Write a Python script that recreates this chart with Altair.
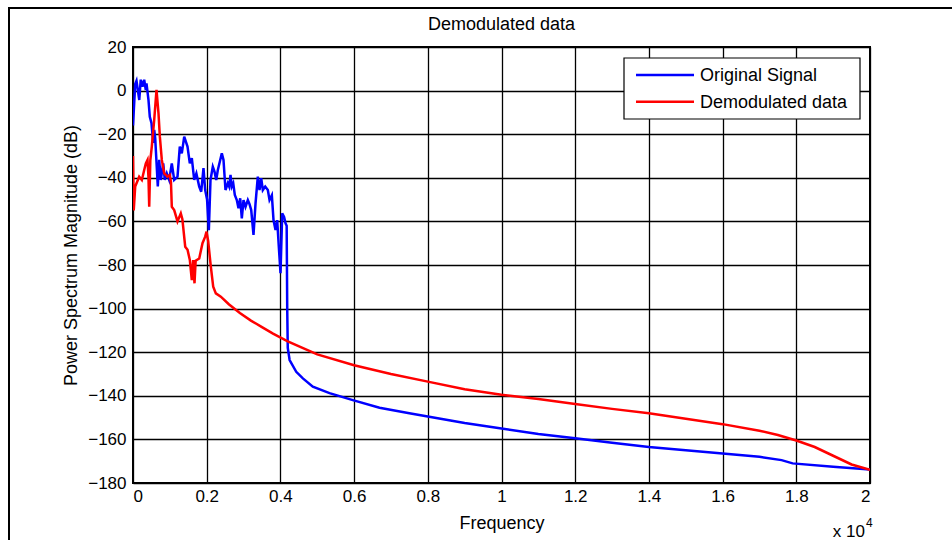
import altair as alt
import pandas as pd

# Power spectrum of the original signal (frequency in Hz, magnitude in dB)
freq_original = [0, 60, 95, 170, 210, 258, 304, 347, 366, 420, 456, 502, 548, 575, 602,
                 638, 673, 711, 754, 820, 863, 917, 982, 1053, 1118, 1208, 1270, 1324,
                 1390, 1479, 1542, 1596, 1661, 1720, 1797, 1851, 1913, 1959, 2010, 2058,
                 2103, 2166, 2210, 2258, 2302, 2367, 2410, 2456, 2510, 2573, 2610, 2646,
                 2681, 2720, 2763, 2817, 2863, 2909, 2953, 2999, 3053, 3116, 3160, 3208,
                 3270, 3325, 3387, 3433, 3479, 3523, 3588, 3659, 3705, 3768, 3813, 3868,
                 3913, 3957, 4003, 4049, 4100, 4139, 4170, 4185, 4200, 4250, 4430, 4610,
                 4880, 5333, 5965, 6690, 7500, 8000, 9000, 10000, 11000, 12000, 13000,
                 14000, 15000, 16000, 17000, 17600, 17900, 19000, 20000]
mag_original = [-16, 3, 4.5, -4.3, 5, 1.8, 5, 0.3, 3.3, -4.3, -12, -15, -24, -18, -21.7,
                -33, -44, -31.8, -41, -33.4, -41, -38, -41, -33.4, -41, -39.5, -25.7, -28.8,
                -21.1, -25.7, -33.4, -31, -41, -38, -44, -46.4, -35.6, -45.6, -50, -64,
                -41, -34.9, -37, -41, -36.4, -31.8, -28.8, -31.8, -45.6, -42.5, -44, -38.7,
                -44, -42.5, -47.9, -50.2, -54, -49.4, -58.6, -50.2, -53.3, -50.2, -52, -54.8,
                -66.2, -51.7, -39.5, -45.6, -40.2, -45.6, -44, -45.6, -50.2, -48, -59.4, -64,
                -59.4, -71.6, -83.8, -56.3, -58, -60.9, -62, -100, -118, -123.6, -129, -132,
                -135.8, -138.8, -142, -145.5, -148, -149.5, -152.5, -155, -157.5, -159.5, -161.5,
                -163.5, -165, -166.5, -168, -169.5, -171, -172.5, -173.8]

# Power spectrum of the demodulated data
freq_demod = [0, 20, 60, 168, 240, 304, 348, 394, 420, 440, 470, 510, 575, 638, 692, 728,
              782, 847, 936, 999, 1030, 1053, 1118, 1208, 1297, 1340, 1417, 1480, 1542,
              1596, 1633, 1669, 1700, 1797, 1886, 1959, 1995, 2040, 2112, 2177, 2248, 2383,
              2600, 2900, 3200, 3500, 3800, 4200, 4600, 5000, 6000, 7000, 8000, 9000, 10000,
              11000, 12000, 13000, 14000, 15000, 16000, 17000, 17500, 18000, 18500, 19000,
              19500, 20000]
mag_demod = [-30, -55, -44, -39.5, -41, -36.4, -33.4, -31.8, -40, -53.3, -32, -25.7, -13.5,
             0.3, -10.4, -21, -31.8, -38, -39.5, -38.7, -42, -53.3, -54.8, -60, -56.3, -59,
             -71.6, -73, -77.7, -86.9, -77.7, -88.4, -78, -77, -70, -67, -64.7, -69, -80.8,
             -90, -93, -94.5, -98, -102, -105.5, -108.5, -111.5, -115, -118, -121, -126, -130,
             -133.5, -137, -139.5, -141.5, -143.8, -146, -148, -150.5, -153, -156, -158,
             -160.5, -163.5, -167.5, -171.5, -174]

series_names = ["Original Signal", "Demodulated data"]
series_colors = ["#0000ff", "#ff0000"]

x_ticks = list(range(0, 20001, 2000))
y_ticks = list(range(-180, 21, 20))

FONT = "Liberation Sans"
W, H = 737, 436

df = pd.concat([
    pd.DataFrame({"freq": freq_original, "mag": mag_original, "series": series_names[0]}),
    pd.DataFrame({"freq": freq_demod, "mag": mag_demod, "series": series_names[1]}),
], ignore_index=True)

color_scale = alt.Scale(domain=series_names, range=series_colors)

lines = alt.Chart(df).mark_line(strokeWidth=2.5, clip=True).encode(
    x=alt.X("freq:Q",
            scale=alt.Scale(domain=[0, 20000], nice=False, zero=False),
            axis=alt.Axis(values=x_ticks, labelExpr="'' + datum.value / 10000",
                          title="Frequency", labelPadding=5,
                          titleY=40, titleBaseline="middle")),
    y=alt.Y("mag:Q",
            scale=alt.Scale(domain=[-180, 20], nice=False, zero=False),
            axis=alt.Axis(values=y_ticks, title="Power Spectrum Magnitude (dB)",
                          labelPadding=7, titleX=-62, titleY=208,
                          titleBaseline="middle")),
    color=alt.Color("series:N", scale=color_scale, legend=None),
)

one = pd.DataFrame({"k": [0]})

# legend: white box with a line sample and a label per series
legend_df = pd.DataFrame({"series": series_names, "row": [0, 1]})
row_y = "28 + datum.row * 26.7"
legend_box = alt.Chart(one).mark_rect(fill="white", stroke="black", strokeWidth=1.2).encode(
    x=alt.value(491), x2=alt.value(727), y=alt.value(11), y2=alt.value(72))
legend_lines = alt.Chart(legend_df).transform_calculate(py=row_y).mark_rule(strokeWidth=2.5).encode(
    x=alt.value(503), x2=alt.value(561),
    y=alt.Y("py:Q", scale=None),
    color=alt.Color("series:N", scale=color_scale, legend=None),
)
legend_text = alt.Chart(legend_df).transform_calculate(py=row_y).mark_text(
    font=FONT, fontSize=18, color="black", align="left", baseline="middle", dy=1).encode(
    x=alt.value(567), y=alt.Y("py:Q", scale=None), text="series:N")

# figure border on the left and top edges
frame_left = alt.Chart(one).mark_rule(color="black", strokeWidth=2).encode(
    x=alt.value(-124), y=alt.value(-39), y2=alt.value(493))
frame_top = alt.Chart(one).mark_rule(color="black", strokeWidth=2).encode(
    x=alt.value(-125), x2=alt.value(819), y=alt.value(-39))

# chart title
title = alt.Chart(one).mark_text(text="Demodulated data", font=FONT, fontSize=18,
                                 color="black", align="center", baseline="middle").encode(
    x=alt.value(W / 2), y=alt.value(-22))

# axis multiplier "x 10^4"
exp_base = alt.Chart(one).mark_text(text="x 10", font=FONT, fontSize=17, color="black",
                                    align="right", baseline="alphabetic").encode(
    x=alt.value(732), y=alt.value(490))
exp_pow = alt.Chart(one).mark_text(text="4", font=FONT, fontSize=12, color="black",
                                   align="left", baseline="alphabetic").encode(
    x=alt.value(733), y=alt.value(480))

chart = alt.layer(lines, legend_box, legend_lines, legend_text, frame_left, frame_top,
                  title, exp_base, exp_pow).resolve_scale(y="independent").properties(
    width=W,
    height=H,
    autosize=alt.AutoSizeParams(type="none"),
    padding={"left": 133, "top": 47, "right": 82, "bottom": 57},
    background="white",
).configure_view(
    stroke="black", strokeWidth=2
).configure_axis(
    domain=False, ticks=False, grid=True, gridColor="black", gridOpacity=1,
    gridWidth=1.3, labelFont=FONT, labelFontSize=17, labelColor="black",
    titleFont=FONT, titleFontSize=18, titleFontWeight="normal", titleColor="black",
)

chart.save("out.html", embed_options={"renderer": "svg", "actions": False})
